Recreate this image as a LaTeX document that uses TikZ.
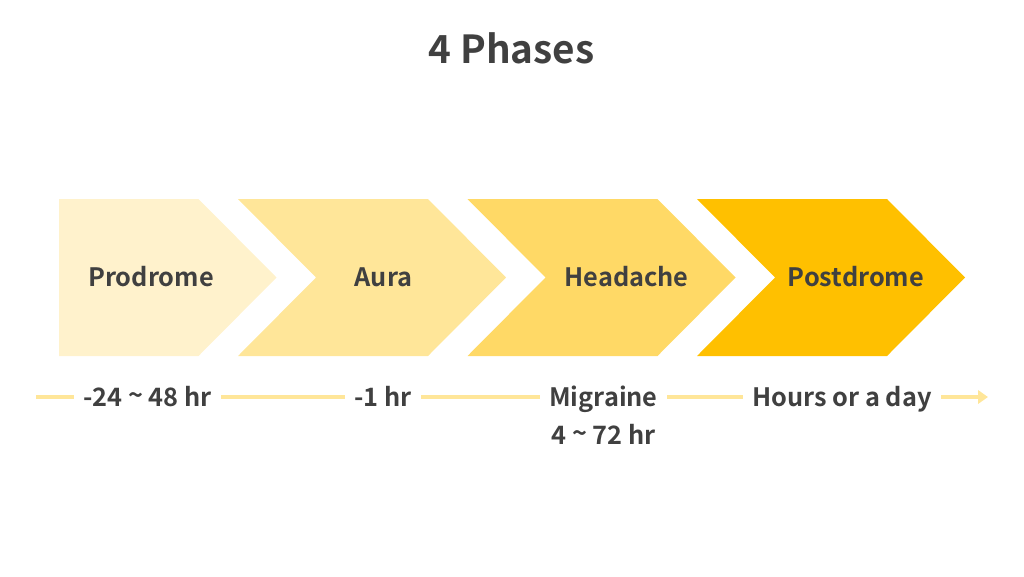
\documentclass[tikz,border=0pt]{standalone}
\usepackage{fontspec}
\setmainfont{Noto Sans CJK KR}[BoldFont={Noto Sans CJK KR Bold}]
\usetikzlibrary{arrows.meta}
\definecolor{cA}{HTML}{FFF2CC}
\definecolor{cB}{HTML}{FFE699}
\definecolor{cC}{HTML}{FFD966}
\definecolor{cD}{HTML}{FFC000}
\definecolor{txt}{HTML}{404040}
\tikzset{
  lbl/.style={font=\fontsize{19}{23}\selectfont\bfseries, text=txt, anchor=base, inner sep=0pt},
  tlbl/.style={font=\fontsize{19}{23}\selectfont\bfseries, text=txt, anchor=base, inner xsep=7pt, inner ysep=0pt, outer sep=0pt, text height=13.5pt, text depth=0pt},
  tline/.style={draw=cB, line width=3.3pt},
  ttl/.style={font=\fontsize{29}{34}\selectfont\bfseries, text=txt, anchor=base, inner sep=0pt}
}
\begin{document}
\begin{tikzpicture}[x=0.75pt,y=-0.75pt]
\useasboundingbox (0,0) rectangle (1024,576);
\node[ttl] (title) at (511.5,63) {4 Phases};
% chevrons
\fill[cA] (59,199) -- (198.5,199) -- (276.5,277.5) -- (198.5,356) -- (59,356) -- cycle;
\foreach \s/\c in {238/cB, 467.5/cC, 697/cD}{
  \fill[\c] (\s,199) -- (\s+190,199) -- (\s+268,277.5) -- (\s+190,356) -- (\s,356) -- (\s+78,277.5) -- cycle;
}
\node[lbl] (c1) at (151,286) {Prodrome};
\node[lbl] (c2) at (383.5,286) {Aura};
\node[lbl] (c3) at (626.5,286) {Headache};
\node[lbl] (c4) at (856,286) {Postdrome};
% timeline
\coordinate (t0) at (36,397);
\coordinate (t5) at (988,397);
\node[tlbl] (p1) at (147.5,406) {-24 \raisebox{0.05em}{\char`\~} 48 hr};
\node[tlbl] (p2) at (383,406) {-1 hr};
\node[tlbl] (p3) at (603.5,406) {Migraine};
\node[lbl] (p3b) at (603.5,444) {4 \raisebox{0.05em}{\char`\~} 72 hr};
\node[tlbl] (p4) at (842,406) {Hours or a day};
\draw[tline] (t0) -- (p1);
\draw[tline] (p1) -- (p2);
\draw[tline] (p2) -- (p3);
\draw[tline] (p3) -- (p4);
\draw[tline, -{Triangle[length=7.5pt,width=10pt]}] (p4) -- (t5);
\end{tikzpicture}
\end{document}
